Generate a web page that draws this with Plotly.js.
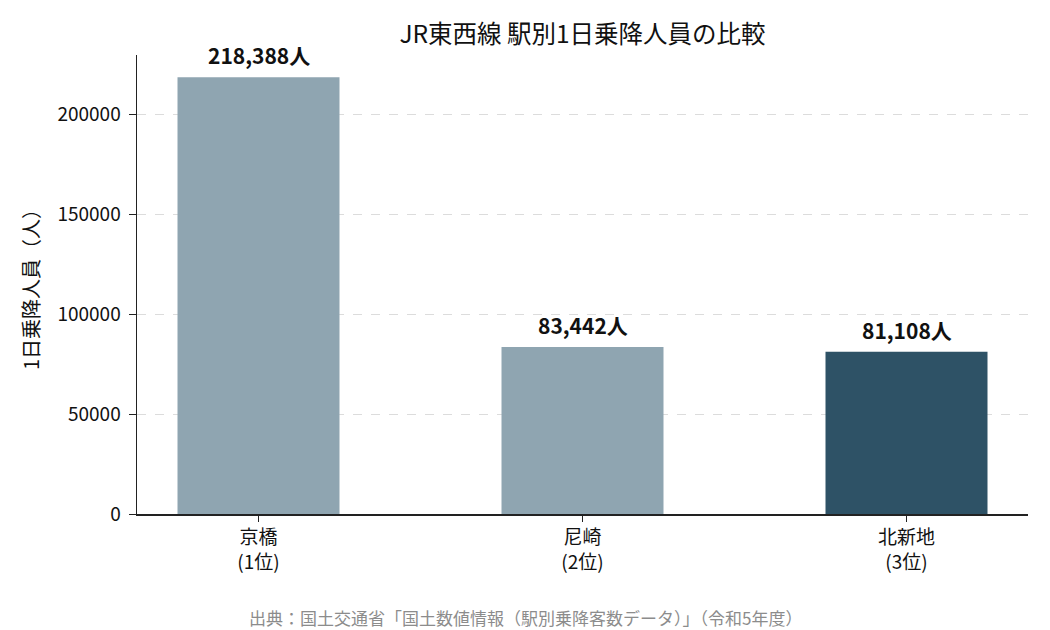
<!DOCTYPE html>
<html>
<head>
<meta charset="utf-8">
<script src="https://cdn.plot.ly/plotly-3.0.1.min.js"></script>
<style>
  body { margin: 0; background: #fff; }
  #plot { width: 1050px; height: 630px; }
</style>
</head>
<body>
<div id="plot"></div>
<script>
// station data (JR東西線, 1日乗降人員)
var stations = ['京橋', '尼崎', '北新地'];
var ranks = ['1位', '2位', '3位'];
var riders = [218388, 83442, 81108];
var barColors = ['#8fa5b1', '#8fa5b1', '#2e5266'];

var font = 'Noto Sans CJK JP, Noto Sans, sans-serif';

var tickText = stations.map(function(s, i) {
  return s + '<br>(' + ranks[i] + ')';
});

var trace = {
  x: stations,
  y: riders,
  type: 'bar',
  width: 0.5,
  marker: { color: barColors },
  hoverinfo: 'none'
};

// value labels above bars
var labels = stations.map(function(s, i) {
  return {
    x: s, y: riders[i],
    text: '<b>' + riders[i].toLocaleString('en-US') + '人</b>',
    showarrow: false,
    yanchor: 'bottom',
    yshift: 5,
    font: { family: font, size: 21, color: '#111' }
  };
});

// source note, centred on the whole figure
labels.push({
  xref: 'paper', yref: 'paper',
  x: 0.4355, y: 0, yshift: -103,
  xanchor: 'center', yanchor: 'middle',
  text: '出典：国土交通省「国土数値情報（駅別乗降客数データ）」（令和5年度）',
  showarrow: false,
  font: { family: font, size: 17, color: '#8c8c8c' }
});

var layout = {
  width: 1050,
  height: 630,
  margin: { l: 137, r: 22, t: 55, b: 116 },
  paper_bgcolor: '#fff',
  plot_bgcolor: '#fff',
  font: { family: font, size: 19, color: '#111' },
  title: {
    text: 'JR東西線 駅別1日乗降人員の比較',
    x: 0.5, xref: 'paper', xanchor: 'center',
    y: 0.945, yanchor: 'middle',
    font: { family: font, size: 24.5, color: '#111' }
  },
  xaxis: {
    type: 'category',
    range: [-0.375, 2.375],
    tickvals: stations,
    ticktext: tickText,
    ticks: 'outside', ticklen: 6, tickcolor: '#222',
    showline: true, linecolor: '#222', linewidth: 1.5,
    showgrid: false, zeroline: false,
    tickfont: { family: font, size: 19 }
  },
  yaxis: {
    range: [0, 229500],
    tickvals: [0, 50000, 100000, 150000, 200000],
    ticktext: ['0', '50000', '100000', '150000', '200000'],
    ticks: 'outside', ticklen: 7, tickcolor: '#222',
    ticklabelstandoff: 4,
    showline: true, linecolor: '#222', linewidth: 1.5,
    showgrid: true, gridcolor: '#dcdcdc', griddash: 'dash', gridwidth: 1,
    zeroline: false,
    tickfont: { family: font, size: 19 },
    title: { text: '1日乗降人員（人）', font: { family: font, size: 20 }, standoff: 12 }
  },
  annotations: labels,
  showlegend: false,
  bargap: 0.5
};

Plotly.newPlot('plot', [trace], layout, { displayModeBar: false, staticPlot: true });
</script>
</body>
</html>
